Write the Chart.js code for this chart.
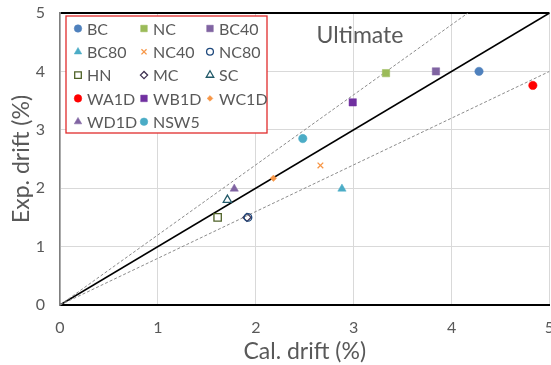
<!DOCTYPE html>
<html><head><meta charset="utf-8">
<script src="https://cdn.jsdelivr.net/npm/chart.js@4/dist/chart.umd.min.js"></script>
<style>html,body{margin:0;padding:0;background:#fff;overflow:hidden;}#wrap{width:551px;height:365px;position:relative;overflow:hidden;}canvas{display:block;}</style>
</head><body><div id="wrap"><canvas id="c" width="556" height="365"></canvas></div>
<script>
// ---- data ----
const seriesNames = ['BC','NC','BC40','BC80','NC40','NC80','HN','MC','SC','WA1D','WB1D','WC1D','WD1D','NSW5'];
const calDrift = [4.28, 3.33, 3.84, 2.88, 2.66, 1.92, 1.61, 1.91, 1.71, 4.83, 2.99, 2.18, 1.78, 2.48];
const expDrift = [4.00, 3.97, 4.00, 1.99, 2.39, 1.50, 1.50, 1.50, 1.80, 3.76, 3.47, 2.17, 1.99, 2.85];
const xTickValues = [0, 1, 2, 3, 4, 5];
const yTickValues = [0, 1, 2, 3, 4, 5];
const equalLineX = [0, 5];      const equalLineY = [0, 5];
const upperLineX = [0, 5 / 1.2]; const upperLineY = [0, 5];
const lowerLineX = [0, 5];      const lowerLineY = [0, 4];
const chartTitle = 'Ultimate';
const xTitle = 'Cal. drift (%)';
const yTitle = 'Exp. drift (%)';

// ---- styles ----
const markerStyle = [
  {s:'circle', r:4.2, fill:'#4F81BD', stroke:'#4F81BD'},
  {s:'rect', r:5.2, fill:'#9BBB59', stroke:'#9BBB59'},
  {s:'rect', r:5.2, fill:'#8064A2', stroke:'#8064A2'},
  {s:'triangle', r:4.8, fill:'#4BACC6', stroke:'#4BACC6'},
  {s:'crossRot', r:4, fill:'#F79646', stroke:'#F79646'},
  {s:'circle', r:3.8, fill:'rgba(0,0,0,0)', stroke:'#1F497D'},
  {s:'rect', r:5.2, fill:'rgba(0,0,0,0)', stroke:'#4F6228'},
  {s:'rectRot', r:4, fill:'rgba(0,0,0,0)', stroke:'#3F3151'},
  {s:'triangle', r:4.8, fill:'rgba(0,0,0,0)', stroke:'#215968'},
  {s:'circle', r:4.2, fill:'#FF0000', stroke:'#FF0000'},
  {s:'rect', r:5.2, fill:'#7030A0', stroke:'#7030A0'},
  {s:'rectRot', r:3.2, fill:'#F79646', stroke:'#F79646'},
  {s:'triangle', r:4.8, fill:'#8064A2', stroke:'#8064A2'},
  {s:'circle', r:4.2, fill:'#4BACC6', stroke:'#4BACC6'}
];
const FONT = 'Lato, "Open Sans", sans-serif';
const TEXT = '#595959';

const pointSets = seriesNames.map((n, i) => ({
  label: n,
  data: [{x: calDrift[i], y: expDrift[i]}],
  pointStyle: markerStyle[i].s,
  pointRadius: markerStyle[i].r,
  backgroundColor: markerStyle[i].fill,
  borderColor: markerStyle[i].stroke,
  borderWidth: markerStyle[i].fill === 'rgba(0,0,0,0)' || markerStyle[i].s === 'crossRot' ? 1.3 : 0.5,
  showLine: false,
  isMarker: true,
  order: 0
}));
const lineSet = (xs, ys, color, width, dash) => ({
  label: '', data: xs.map((x, i) => ({x, y: ys[i]})), showLine: true,
  borderColor: color, borderWidth: width, borderDash: dash, pointRadius: 0,
  backgroundColor: color, fill: false, isMarker: false, order: 1
});
const datasets = [
  lineSet(upperLineX, upperLineY, '#8c8c8c', 1, [3, 2]),
  lineSet(lowerLineX, lowerLineY, '#8c8c8c', 1, [3, 2]),
  lineSet(equalLineX, equalLineY, '#000000', 1.6, []),
  ...pointSets
];

const overlay = {
  id: 'overlay',
  afterDatasetsDraw(chart) {
    const ctx = chart.ctx;
    const ca = chart.chartArea;
    ctx.save();
    ctx.fillStyle = TEXT;
    ctx.font = '23px ' + FONT;
    ctx.textAlign = 'center';
    ctx.textBaseline = 'middle';
    ctx.fillText(chartTitle, ca.left + 300, ca.top + 23);
    const bx = ca.left + 6, by = ca.top + 3, bw = 201, bh = 117;
    ctx.fillStyle = '#ffffff';
    ctx.fillRect(bx, by, bw, bh);
    ctx.strokeStyle = '#E02B2B';
    ctx.lineWidth = 1.3;
    ctx.strokeRect(bx, by, bw, bh);
    const items = chart.data.datasets.filter(d => d.isMarker);
    ctx.font = '16px ' + FONT;
    ctx.textAlign = 'left';
    items.forEach((d, k) => {
      const col = k % 3, row = Math.floor(k / 3);
      const mx = bx + 12 + col * 66, my = by + 12.5 + row * 23.3;
      ctx.fillStyle = d.backgroundColor;
      ctx.strokeStyle = d.borderColor;
      ctx.lineWidth = d.borderWidth;
      Chart.helpers.drawPoint(ctx, {pointStyle: d.pointStyle, radius: d.pointRadius * 0.9, rotation: 0, borderWidth: d.borderWidth}, mx, my);
      ctx.fillStyle = TEXT;
      ctx.fillText(d.label, mx + 9, my + 1);
    });
    ctx.restore();
  }
};

new Chart(document.getElementById('c'), {
  type: 'scatter',
  data: {datasets},
  plugins: [overlay],
  options: {
    responsive: false,
    animation: false,
    layout: {padding: {top: 13, right: 1, left: 0, bottom: 0}},
    plugins: {legend: {display: false}, tooltip: {enabled: false}},
    elements: {line: {tension: 0}},
    scales: {
      x: {
        type: 'linear', min: 0, max: 5,
        afterBuildTicks: s => { s.ticks = xTickValues.map(v => ({value: v})); },
        afterFit: s => { s.height = 60; s.paddingLeft = 0; s.paddingRight = 0; },
        ticks: {color: TEXT, font: {family: FONT, size: 16}, padding: 13},
        grid: {color: '#d9d9d9', lineWidth: 1, drawTicks: false},
        border: {color: '#000000', width: 2},
        title: {display: true, text: xTitle, color: TEXT, font: {family: FONT, size: 23}, padding: {top: 0, bottom: 0}}
      },
      y: {
        type: 'linear', min: 0, max: 5,
        afterBuildTicks: s => { s.ticks = yTickValues.map(v => ({value: v})); },
        afterFit: s => { s.width = 60; s.paddingTop = 0; s.paddingBottom = 0; },
        ticks: {color: TEXT, font: {family: FONT, size: 16}, padding: 15},
        grid: {color: c => c.tick && c.tick.value === 5 ? '#000000' : '#d9d9d9', lineWidth: c => c.tick && c.tick.value === 5 ? 2 : 1, drawTicks: false},
        border: {color: '#7f7f7f', width: 1.5},
        title: {display: true, text: yTitle, color: TEXT, font: {family: FONT, size: 23}, padding: {top: 8, bottom: 0}}
      }
    }
  }
});
</script></body></html>
